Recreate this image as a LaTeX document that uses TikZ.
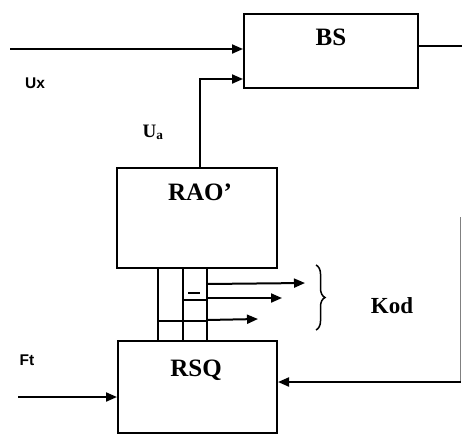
\documentclass[tikz,border=0pt]{standalone}
\usepackage{fontspec}
\setmainfont{Liberation Serif}
\newfontfamily\sansf{Liberation Sans}
\usetikzlibrary{arrows.meta,decorations.pathreplacing}
\begin{document}
\begin{tikzpicture}[x=1pt,y=-1pt,
  line width=2pt,
  box/.style={draw,line width=2pt,inner sep=0pt,anchor=north west},
  lbl/.style={inner sep=0pt,anchor=base,font=\bfseries\fontsize{25}{28}\selectfont},
  slbl/.style={inner sep=0pt,anchor=base,font=\sansf\bfseries\fontsize{15.5}{18}\selectfont},
  arr/.style={-{Triangle[length=11pt,width=9pt]}},
  bus/.style={line width=2pt}]
\useasboundingbox (0,0) rectangle (462,434);
% boxes
\node[box,minimum width=174pt,minimum height=74pt] (bs) at (243,13) {};
\node[lbl] (bst) at (331,45) {BS};
\node[box,minimum width=160pt,minimum height=100pt] (rao) at (116,167) {};
\node[lbl] (raot) at (200,200) {RAO’};
\node[box,minimum width=159pt,minimum height=92pt] (rsq) at (117,340) {};
\node[lbl] (rsqt) at (196,376) {RSQ};
% labels
\node[slbl] (ux) at (35,88) {Ux};
\node[slbl] (ft) at (27,365) {Ft};
\node[inner sep=0pt,anchor=base,font=\bfseries\fontsize{19}{22}\selectfont] (ua) at (153,137) {U\textsubscript{a}};
\node[inner sep=0pt,anchor=base,font=\bfseries\fontsize{23}{26}\selectfont] (kod) at (392,313) {Kod};
% BS inputs / output
\coordinate (inA) at (10,49);
\draw[arr] (inA) -- (bs.west |- inA);
\coordinate (uabend) at (200,79);
\draw[arr] (rao.north -| uabend) |- (bs.west |- uabend);
\coordinate (outB) at (462,46);
\draw (bs.east |- outB) -- (outB);
% bus between RAO and RSQ
\coordinate (b1) at (158,0);
\coordinate (b2) at (183,0);
\coordinate (b3) at (207,0);
\draw[bus] (rao.south -| b1) -- (rsq.north -| b1);
\draw[bus] (rao.south -| b2) -- (rsq.north -| b2);
\draw[bus] (rao.south -| b3) -- (rsq.north -| b3);
\coordinate (h1) at (183,300);
\coordinate (h1e) at (207,300);
\draw[bus] (h1) -- (h1e);
\coordinate (h2) at (158,321);
\coordinate (h2e) at (207,321);
\draw[bus] (h2) -- (h2e);
\coordinate (m1) at (188,293);
\coordinate (m2) at (200,293);
\draw[line width=2pt] (m1) -- (m2);
% code outputs
\coordinate (k1) at (207,284);
\coordinate (k1e) at (305,283);
\coordinate (k2) at (207,298);
\coordinate (k2e) at (282,298);
\coordinate (k3) at (207,320);
\coordinate (k3e) at (258,319);
\draw[arr] (k1) -- (k1e);
\draw[arr] (k2) -- (k2e);
\draw[arr] (k3) -- (k3e);
% brace
\coordinate (br1) at (316,265);
\coordinate (br2) at (316,330);
\draw[line width=1.5pt,decorate,decoration={brace,amplitude=9pt}] (br1) -- (br2);
% Ft input
\coordinate (ftin) at (18,397);
\draw[arr] (ftin) -- (rsq.west |- ftin);
% feedback
\coordinate (fb1) at (460.5,217);
\coordinate (fb2) at (460.5,382);
\draw[gray,line width=1pt] (fb1) -- (fb2);
\draw[arr] (fb2) -- (rsq.east |- fb2);
\end{tikzpicture}
\end{document}
